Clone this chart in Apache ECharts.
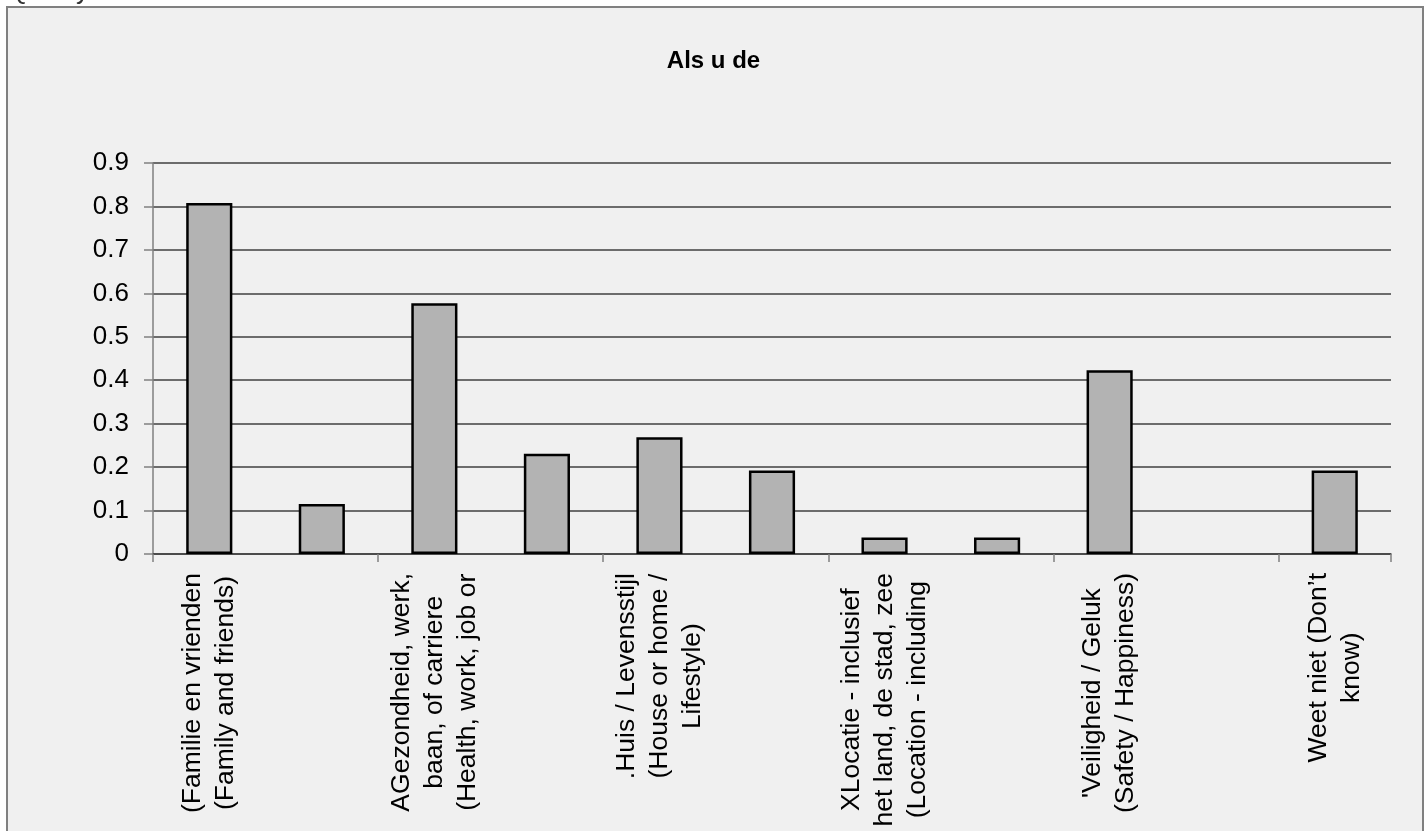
<!DOCTYPE html>
<html>
<head>
<meta charset="utf-8">
<script src="https://cdn.jsdelivr.net/npm/echarts@6/dist/echarts.min.js"></script>
<style>
html,body{margin:0;padding:0;background:#ffffff;}
#chart{width:1427px;height:831px;}
</style>
</head>
<body>
<div id="chart"></div>
<script>
const pageTitle = 'Quality of life';
const chartTitle = 'Als u de';
const categories = [
  '(Familie en vrienden\n(Family and friends)',
  '(2)',
  'AGezondheid, werk,\nbaan, of carriere\n(Health, work, job or',
  '(4)',
  '.Huis / Levensstijl\n(House or home /\nLifestyle)',
  '(6)',
  'XLocatie - inclusief\nhet land, de stad, zee\n(Location - including',
  '(8)',
  "'Veiligheid / Geluk\n(Safety / Happiness)",
  '(10)',
  'Weet niet (Don\u2019t\nknow)'
];
const values = [0.808, 0.115, 0.577, 0.231, 0.269, 0.192, 0.038, 0.038, 0.423, 0, 0.192];
const yTicks = [0, 0.1, 0.2, 0.3, 0.4, 0.5, 0.6, 0.7, 0.8, 0.9];

const chart = echarts.init(document.getElementById('chart'), null, {renderer: 'canvas'});
const FONT = '"Liberation Sans", Arial, sans-serif';
chart.setOption({
  animation: false,
  backgroundColor: '#ffffff',
  graphic: [
    {type: 'rect', z: -10, shape: {x: 7, y: 7, width: 1416, height: 860},
     style: {fill: '#f0f0f0', stroke: '#808080', lineWidth: 2}},
    {type: 'text', x: 8, y: -8,
     style: {text: pageTitle, font: '26px ' + FONT, fill: '#333333', verticalAlign: 'middle'}}
  ],
  title: {
    text: chartTitle, left: 'center', top: 44,
    textStyle: {fontFamily: FONT, fontSize: 24, fontWeight: 'bold', color: '#000000'}
  },
  grid: {left: 153, right: 36, top: 163, bottom: 277, containLabel: false},
  xAxis: {
    type: 'category',
    data: categories,
    axisLine: {show: true, lineStyle: {color: '#404040', width: 1.5}},
    axisTick: {show: true, alignWithLabel: false, length: 8, lineStyle: {color: '#808080', width: 1.5}},
    axisLabel: {
      interval: 1, rotate: 90, margin: 19,
      color: '#000000', fontFamily: FONT, fontSize: 26.5, lineHeight: 33,
      formatter: function (v) { return v.split('\n').map(l => '{c|' + l + '}').join('\n'); },
      rich: {c: {align: 'center', fontFamily: FONT, fontSize: 26.5, lineHeight: 33, color: '#000000'}}
    },
    splitLine: {show: false}
  },
  yAxis: {
    type: 'value', min: 0, max: 0.9, interval: 0.1,
    axisLine: {show: true, lineStyle: {color: '#808080', width: 1.5}},
    axisTick: {show: true, length: 9, lineStyle: {color: '#808080', width: 1.5}},
    axisLabel: {
      margin: 24, color: '#000000', fontFamily: FONT, fontSize: 26,
      formatter: function (v) {
        const t = yTicks.find(x => Math.abs(x - v) < 1e-9);
        return t === undefined ? '' : (t === 0 ? '0' : String(t));
      }
    },
    splitLine: {show: true, lineStyle: {color: '#404040', width: 1.5}}
  },
  series: [{
    type: 'bar',
    data: values.map(v => v === 0 ? {value: v, itemStyle: {borderWidth: 0}} : v),
    barWidth: '41%',
    itemStyle: {color: '#b3b3b3', borderColor: '#000000', borderWidth: 2.5}
  }]
});
</script>
</body>
</html>
